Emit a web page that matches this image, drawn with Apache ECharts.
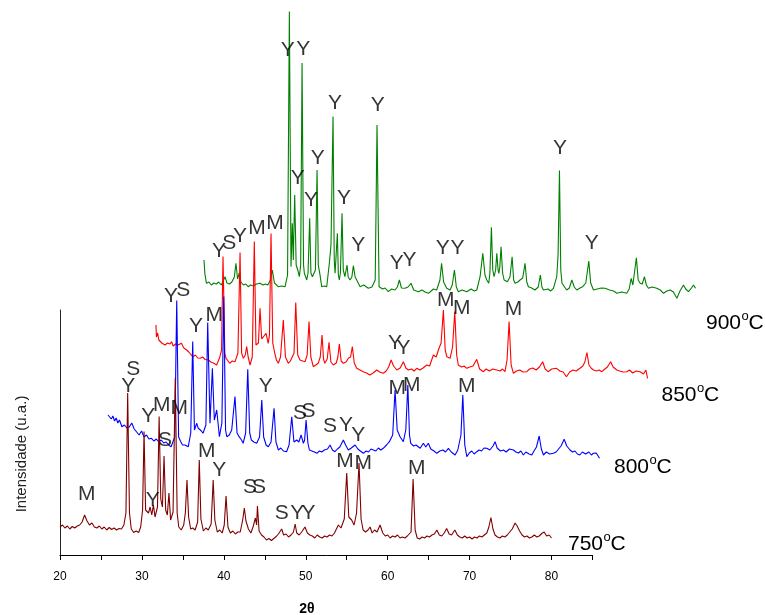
<!DOCTYPE html>
<html><head><meta charset="utf-8">
<script src="https://cdn.jsdelivr.net/npm/echarts@6/dist/echarts.min.js"></script>
<style>html,body{margin:0;padding:0;background:#fff}#c{width:765px;height:615px}</style>
</head><body><div id="c"></div>
<script>
// Sample names (temperatures)
const temps = ['750', '800', '850', '900'];
// X-axis tick labels (2θ)
const tickLabels = [20, 30, 40, 50, 60, 70, 80];

// Diffractograms: [2θ, intensity (a.u.)]
const s750 = [[20.0,280],[20.3,300],[20.6,270],[20.9,290],[21.2,260],[21.5,285],[21.8,270],[22.1,290],[22.4,300],[22.7,330],[23.0,400],[23.3,340],[23.6,300],[23.9,320],[24.2,280],[24.5,270],[24.8,290],[25.1,260],[25.4,280],[25.7,250],[26.0,275],[26.3,255],[26.6,270],[26.9,250],[27.2,265],[27.5,260],[27.8,300],[28.05,420],[28.26,1620],[28.48,420],[28.7,260],[29.0,225],[29.3,240],[29.6,225],[29.85,280],[30.08,450],[30.26,1235],[30.45,450],[30.6,460],[30.8,420],[31.0,480],[31.2,400],[31.4,500],[31.6,380],[31.9,480],[32.1,1385],[32.3,560],[32.5,480],[32.7,990],[32.9,450],[33.1,400],[33.3,620],[33.5,350],[33.8,430],[34.07,1770],[34.3,420],[34.5,280],[34.8,250],[35.1,300],[35.3,420],[35.5,750],[35.7,380],[35.95,260],[36.2,270],[36.5,250],[36.8,330],[37.0,950],[37.2,360],[37.5,240],[37.8,270],[38.1,250],[38.45,310],[38.7,750],[38.9,350],[39.2,230],[39.5,250],[39.8,220],[40.05,300],[40.27,590],[40.5,280],[40.8,220],[41.1,240],[41.4,210],[41.7,230],[42.0,230],[42.3,350],[42.5,470],[42.7,340],[43.0,260],[43.3,220],[43.6,290],[43.85,370],[44.0,300],[44.1,490],[44.3,240],[44.6,200],[44.9,180],[45.2,150],[45.5,165],[45.8,145],[46.1,165],[46.4,185],[46.7,215],[47.06,260],[47.3,200],[47.6,210],[47.9,180],[48.2,200],[48.5,230],[48.7,310],[48.9,220],[49.2,200],[49.5,230],[49.9,280],[50.2,220],[50.5,200],[50.8,190],[51.1,170],[51.4,200],[51.7,180],[52.0,170],[52.3,190],[52.6,180],[52.9,200],[53.2,190],[53.5,220],[53.98,300],[54.3,270],[54.7,360],[55.0,820],[55.25,380],[55.6,350],[55.9,300],[56.2,420],[56.5,920],[56.75,360],[57.0,250],[57.3,230],[57.6,250],[57.85,280],[58.1,220],[58.4,250],[58.7,230],[59.07,300],[59.4,220],[59.7,190],[60.0,200],[60.3,170],[60.6,190],[60.9,180],[61.2,200],[61.5,170],[61.8,180],[62.1,170],[62.4,190],[62.85,230],[63.1,760],[63.35,250],[63.6,170],[63.9,160],[64.2,180],[64.5,170],[64.8,190],[65.1,180],[65.4,200],[65.7,210],[66.0,250],[66.3,200],[66.6,190],[66.9,220],[67.2,265],[67.5,210],[67.8,200],[68.2,250],[68.5,200],[68.8,180],[69.1,170],[69.4,190],[69.7,170],[70.0,180],[70.3,160],[70.6,180],[70.9,170],[71.2,190],[71.5,180],[71.8,200],[72.1,220],[72.35,280],[72.6,375],[72.85,260],[73.1,200],[73.4,180],[73.7,170],[74.0,190],[74.3,180],[74.6,200],[74.9,230],[75.2,260],[75.55,320],[75.8,290],[76.1,240],[76.4,200],[76.7,180],[77.0,190],[77.3,170],[77.6,180],[77.9,200],[78.2,180],[78.5,190],[78.8,215],[79.1,230],[79.4,190],[79.7,200],[80.0,170]];

const s800 = [[20.0,600],[20.2,620],[20.4,560],[20.6,590],[20.8,540],[21.0,570],[21.2,520],[21.4,550],[21.7,483],[22.0,500],[22.3,470],[22.6,480],[22.9,520],[23.2,460],[23.5,430],[23.8,400],[24.1,440],[24.4,380],[24.7,400],[25.0,360],[25.3,367],[25.6,340],[25.9,360],[26.2,330],[26.5,350],[26.8,320],[27.1,330],[27.4,300],[27.7,283],[28.15,380],[28.39,1745],[28.62,380],[28.9,330],[29.1,300],[29.4,300],[29.8,283],[30.1,420],[30.34,1335],[30.55,450],[30.83,517],[31.0,470],[31.2,467],[31.4,440],[31.6,417],[31.95,500],[32.17,1525],[32.45,517],[32.74,1067],[32.98,550],[33.27,650],[33.6,383],[33.9,520],[34.13,1785],[34.35,450],[34.5,383],[34.8,400],[35.1,450],[35.5,785],[35.75,420],[36.0,383],[36.3,350],[36.5,317],[36.8,420],[37.06,1057],[37.3,420],[37.5,350],[37.8,330],[38.15,317],[38.5,380],[38.77,750],[39.0,380],[39.3,300],[39.57,283],[39.9,330],[40.27,667],[40.5,330],[40.8,250],[41.1,270],[41.4,240],[41.8,233],[42.1,300],[42.43,583],[42.7,330],[43.04,350],[43.3,330],[43.57,400],[43.85,317],[44.0,350],[44.18,550],[44.4,320],[44.58,250],[44.9,240],[45.2,230],[45.5,217],[45.8,240],[46.1,230],[46.4,250],[46.8,260],[47.1,300],[47.4,250],[47.7,233],[48.0,260],[48.3,280],[48.73,350],[49.0,300],[49.34,250],[49.7,270],[50.16,300],[50.5,260],[50.8,240],[51.17,217],[51.5,240],[51.8,230],[52.1,260],[52.4,250],[52.7,240],[53.0,270],[53.3,250],[53.6,267],[54.0,300],[54.35,333],[54.75,400],[55.04,850],[55.3,450],[55.65,383],[56.05,333],[56.35,450],[56.6,900],[56.8,400],[56.96,317],[57.3,290],[57.6,300],[58.1,267],[58.5,317],[58.8,280],[59.1,317],[59.4,260],[59.8,240],[60.13,217],[60.5,240],[60.9,250],[61.2,230],[61.55,267],[61.9,230],[62.37,200],[62.7,250],[63.08,400],[63.31,800],[63.55,300],[63.8,183],[64.1,220],[64.4,240],[64.7,210],[65.02,233],[65.3,250],[65.6,240],[65.9,270],[66.24,267],[66.6,250],[67.0,290],[67.25,333],[67.5,270],[67.9,240],[68.27,250],[68.6,230],[69.0,260],[69.49,250],[69.8,230],[70.1,220],[70.4,240],[70.71,200],[71.0,230],[71.4,210],[71.73,200],[72.0,240],[72.3,280],[72.63,390],[72.9,260],[73.15,200],[73.5,230],[73.9,210],[74.37,217],[74.7,230],[75.0,260],[75.3,290],[75.68,357],[76.0,290],[76.4,250],[76.7,230],[77.0,240],[77.3,210],[77.6,200],[77.9,230],[78.3,210],[78.7,230],[79.0,200],[79.26,217],[79.6,220],[80.0,167]];

const s850 = [[20.0,700],[20.05,580],[20.2,620],[20.35,550],[20.5,560],[20.7,520],[20.9,540],[21.1,500],[21.4,520],[21.7,510],[21.9,533],[22.1,490],[22.4,510],[22.7,500],[22.9,480],[23.1,517],[23.4,470],[23.75,450],[24.0,430],[24.3,400],[24.55,383],[24.8,400],[25.1,370],[25.4,367],[25.7,380],[26.0,355],[26.4,350],[26.7,330],[27.0,320],[27.4,300],[27.6,340],[27.8,383],[28.0,450],[28.18,1385],[28.4,420],[28.55,367],[28.8,340],[29.0,317],[29.3,340],[29.65,333],[30.0,420],[30.26,1425],[30.45,420],[30.66,367],[30.9,400],[31.07,483],[31.25,380],[31.48,300],[31.75,380],[32.0,1535],[32.2,500],[32.35,483],[32.5,520],[32.7,867],[32.9,560],[33.1,550],[33.43,617],[33.7,517],[33.85,600],[34.04,1615],[34.25,520],[34.5,417],[34.7,350],[34.93,317],[35.2,380],[35.54,750],[35.8,380],[36.15,317],[36.4,340],[36.57,333],[36.85,420],[37.06,925],[37.3,400],[37.58,350],[37.9,340],[38.2,333],[38.45,400],[38.68,735],[38.9,380],[39.2,283],[39.5,300],[39.8,317],[40.05,380],[40.27,600],[40.45,360],[40.6,317],[40.9,360],[41.12,527],[41.35,330],[41.65,300],[42.0,320],[42.2,380],[42.38,510],[42.6,340],[42.87,317],[43.2,330],[43.48,367],[43.75,380],[43.97,483],[44.2,320],[44.5,267],[44.9,250],[45.3,233],[45.7,220],[46.1,200],[46.5,220],[46.95,250],[47.3,230],[47.75,217],[48.1,240],[48.4,280],[48.7,350],[49.0,290],[49.4,250],[49.8,270],[50.2,333],[50.5,270],[50.8,250],[51.2,260],[51.5,240],[51.83,267],[52.2,250],[52.6,270],[53.05,300],[53.4,290],[53.86,400],[54.2,380],[54.47,450],[54.8,520],[55.08,850],[55.3,450],[55.5,383],[55.7,380],[55.9,367],[56.2,480],[56.47,835],[56.7,400],[56.9,300],[57.3,280],[57.6,290],[57.93,267],[58.3,280],[58.7,290],[59.15,357],[59.5,260],[59.96,233],[60.3,260],[60.7,240],[61.1,260],[61.6,250],[62.0,240],[62.3,260],[62.6,233],[62.85,350],[63.1,735],[63.35,300],[63.63,217],[64.0,240],[64.4,250],[64.8,230],[65.26,233],[65.6,260],[66.0,270],[66.4,250],[66.8,280],[67.2,333],[67.5,260],[67.86,233],[68.3,260],[68.9,267],[69.3,240],[69.7,230],[70.1,183],[70.5,230],[70.9,250],[71.3,240],[71.75,267],[72.1,290],[72.35,330],[72.6,425],[72.85,300],[73.1,270],[73.4,250],[73.8,240],[74.1,250],[74.42,233],[74.8,260],[75.1,280],[75.5,333],[75.8,280],[76.25,250],[76.6,240],[77.0,230],[77.47,233],[77.8,250],[78.2,220],[78.6,240],[79.1,233],[79.5,210],[79.8,250],[80.0,167]];

const s900 = [[20.0,550],[20.1,417],[20.3,317],[20.6,330],[20.9,300],[21.2,320],[21.5,310],[21.8,330],[22.1,300],[22.35,340],[22.56,383],[22.8,320],[23.1,310],[23.4,330],[23.7,380],[23.9,517],[24.1,360],[24.3,420],[24.5,330],[24.8,300],[25.1,310],[25.4,283],[25.7,300],[26.0,290],[26.4,310],[26.84,317],[27.2,300],[27.5,310],[27.8,300],[28.1,350],[28.34,450],[28.6,320],[29.07,283],[29.5,290],[29.9,283],[30.2,400],[30.42,3035],[30.62,483],[30.78,917],[30.9,550],[31.07,1200],[31.25,500],[31.44,450],[31.64,383],[31.8,500],[31.97,2520],[32.15,500],[32.25,417],[32.54,350],[32.7,420],[32.9,967],[33.05,420],[33.23,383],[33.47,367],[33.6,450],[33.8,1450],[33.95,500],[34.13,417],[34.37,283],[34.7,290],[34.98,283],[35.3,517],[35.5,700],[35.75,1985],[35.9,550],[36.0,417],[36.28,817],[36.4,400],[36.52,350],[36.65,420],[36.85,1017],[37.0,450],[37.2,383],[37.46,500],[37.6,380],[37.83,350],[38.05,380],[38.23,493],[38.45,380],[38.64,350],[39.05,283],[39.5,300],[40.06,267],[40.5,280],[40.9,350],[41.12,1900],[41.37,283],[41.8,260],[42.1,270],[42.5,233],[42.9,260],[43.32,250],[43.6,280],[43.85,350],[44.1,270],[44.54,267],[44.9,280],[45.27,317],[45.6,250],[46.16,233],[46.6,250],[47.0,230],[47.4,217],[47.6,233],[48.0,260],[48.4,250],[48.8,350],[49.0,517],[49.25,330],[49.63,267],[50.04,250],[50.3,300],[50.57,450],[50.8,280],[51.05,233],[51.5,250],[52.07,233],[52.6,260],[53.0,240],[53.3,250],[53.7,383],[54.03,617],[54.3,400],[54.52,350],[54.76,317],[54.9,420],[55.08,877],[55.25,450],[55.41,383],[55.6,450],[55.74,617],[55.9,450],[55.98,417],[56.1,470],[56.26,683],[56.45,420],[56.63,350],[57.03,333],[57.35,380],[57.61,583],[57.8,350],[57.97,317],[58.3,330],[58.58,350],[58.9,370],[59.19,517],[59.4,330],[59.6,283],[60.0,270],[60.4,250],[60.8,280],[61.06,400],[61.25,280],[61.43,250],[62.0,260],[62.3,240],[62.65,267],[63.06,383],[63.22,600],[63.39,1445],[63.55,450],[63.7,317],[64.27,250],[64.6,270],[64.9,350],[65.2,280],[65.5,250],[65.9,270],[66.23,283],[66.6,320],[66.97,540],[67.2,320],[67.54,250],[68.0,260],[68.5,270],[68.96,267],[69.5,250],[70.0,240],[70.4,217],[71.0,230],[71.6,217],[71.9,260],[72.14,367],[72.35,300],[72.5,317],[72.78,573],[73.0,350],[73.24,317],[73.5,310],[73.76,383],[74.0,300],[74.25,267],[74.7,280],[75.27,267],[75.7,250],[76.09,217],[76.5,240],[76.9,250],[77.3,230],[77.72,167],[78.1,240],[78.53,300],[78.8,260],[79.14,233],[79.5,270],[79.75,300],[80.0,267]];

// Phase annotations: [2θ, intensity, phase letter]
const lab750 = [[23.26,610,'M'],[28.34,1683,'Y'],[28.95,1857,'S'],[30.78,1383,'Y'],[31.32,550,'Y'],[32.42,1500,'M'],[32.82,1150,'S'],[34.57,1467,'M'],[37.91,1033,'M'],[39.45,850,'Y'],[43.2,677,'S'],[44.3,677,'S'],[47.07,417,'S'],[48.97,417,'Y'],[50.32,417,'Y'],[54.8,933,'M'],[57.03,917,'M'],[63.55,867,'M']];
const lab800 = [[27.69,1783,'Y'],[29.19,1850,'S'],[30.74,1483,'Y'],[32.98,1600,'M'],[39.26,890,'Y'],[43.44,617,'S'],[44.46,633,'S'],[47.1,483,'S'],[49.06,500,'Y'],[50.56,400,'Y'],[55.32,867,'M'],[57.08,900,'M'],[63.8,883,'M']];
const lab850 = [[27.69,1440,'Y'],[28.95,1517,'S'],[30.26,1590,'Y'],[32.33,1670,'M'],[34.53,1720,'M'],[49.18,517,'Y'],[50.2,467,'Y'],[55.37,943,'M'],[57.33,867,'M'],[63.63,857,'M']];
const lab900 = [[30.22,2650,'Y'],[32.12,2657,'Y'],[31.44,1367,'Y'],[33.06,1150,'Y'],[33.88,1567,'Y'],[36.0,2117,'Y'],[37.1,1167,'Y'],[38.84,700,'Y'],[41.2,2100,'Y'],[43.53,517,'Y'],[45.07,550,'Y'],[49.14,667,'Y'],[50.93,667,'Y'],[63.47,1667,'Y'],[67.33,717,'Y']];

const FONT = '"Liberation Sans", Arial, Helvetica, sans-serif';
const seriesData = [s750, s800, s850, s900];
const labelData = [lab750, lab800, lab850, lab900];
const lineColors = ['#800000', '#0000ff', '#ff0000', '#008000'];

const grids = [], xAxes = [], yAxes = [], series = [];
for (let k = 0; k < 4; k++) {
  grids.push({ left: 60 + 48 * k, top: 310 - 80 * k, width: 532.5, height: 245, outerBoundsMode: 'none', containLabel: false });
  xAxes.push({
    gridIndex: k, type: 'value', min: 20, max: 85, interval: 5, show: k === 0,
    axisLine: { show: true, onZero: false, lineStyle: { color: '#000', width: 1 } },
    axisTick: { show: true, length: 5, lineStyle: { color: '#000' } },
    axisLabel: { formatter: v => tickLabels.includes(v) ? String(v) : '', color: '#000', fontSize: 12, fontFamily: FONT, margin: 16 },
    splitLine: { show: false }
  });
  yAxes.push({
    gridIndex: k, type: 'value', min: 0, max: 2450, show: k === 0,
    axisLine: { show: true, lineStyle: { color: '#222', width: 1 } },
    axisTick: { show: false }, axisLabel: { show: false }, splitLine: { show: false }
  });
}
for (let k = 3; k >= 0; k--) {
  series.push({
    name: temps[k], type: 'line', xAxisIndex: k, yAxisIndex: k, data: seriesData[k],
    showSymbol: false, symbol: 'none', clip: false, z: 5 - k,
    lineStyle: { color: lineColors[k], width: 1.1 }
  });
}
for (let k = 0; k < 4; k++) {
  series.push({
    type: 'scatter', xAxisIndex: k, yAxisIndex: k, data: labelData[k], clip: false, z: 20, silent: true,
    symbol: 'circle', symbolSize: 1, itemStyle: { color: 'rgba(0,0,0,0)' },
    label: { show: true, position: 'inside', formatter: p => p.data[2], color: '#000', textBorderWidth: 0, fontSize: 21, fontFamily: FONT }
  });
}
// temperature captions: number, superscript "o", "C"
const tempPos = [[568, 544], [614, 467.5], [661.5, 395], [706, 323]];
const graphic = [];
temps.forEach((t, k) => {
  const [x, y] = tempPos[k];
  graphic.push({ type: 'text', x: x, y: y, z: 30, style: { text: t, font: '21px ' + FONT, fill: '#000', verticalAlign: 'middle' } });
  graphic.push({ type: 'text', x: x + 35.5, y: y - 7, z: 30, style: { text: 'o', font: '13px ' + FONT, fill: '#000', verticalAlign: 'middle' } });
  graphic.push({ type: 'text', x: x + 42.5, y: y, z: 30, style: { text: 'C', font: '21px ' + FONT, fill: '#000', verticalAlign: 'middle' } });
});
graphic.push({ type: 'text', x: 307, y: 609, z: 30, style: { text: '2θ', font: 'bold 14px ' + FONT, fill: '#000', align: 'center', verticalAlign: 'middle' } });
graphic.push({ type: 'text', x: 22, y: 454, rotation: Math.PI / 2, z: 30, style: { text: 'Intensidade (u.a.)', font: '15px ' + FONT, fill: '#222', align: 'center', verticalAlign: 'middle' } });

const chart = echarts.init(document.getElementById('c'), null, { renderer: 'canvas' });
chart.setOption({ animation: false, backgroundColor: '#fff', grid: grids, xAxis: xAxes, yAxis: yAxes, series: series, graphic: graphic });
</script></body></html>
